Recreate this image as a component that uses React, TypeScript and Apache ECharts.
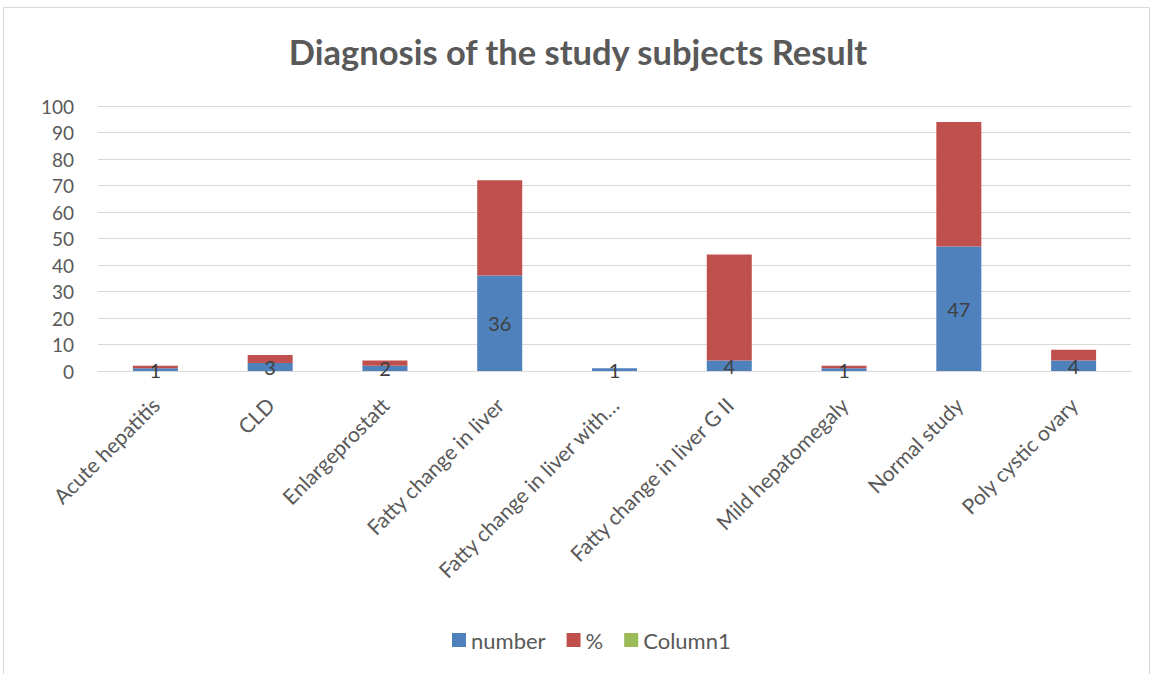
import React, { useEffect, useRef } from "react";
import * as echarts from "echarts";

const categories = [
  "Acute hepatitis",
  "CLD",
  "Enlargeprostatt",
  "Fatty change in liver",
  "Fatty change in liver with…",
  "Fatty change in liver G II",
  "Mild hepatomegaly",
  "Normal study",
  "Poly cystic ovary",
];
const numberValues = [1, 3, 2, 36, 1, 4, 1, 47, 4];
const percentValues = [1, 3, 2, 36, 0, 40, 1, 47, 4];
const column1Values = [0, 0, 0, 0, 0, 0, 0, 0, 0];
const yTicks = { min: 0, max: 100, interval: 10 };

const FONT = "Lato, 'Open Sans', sans-serif";

export default function App() {
  const ref = useRef<HTMLDivElement>(null);
  useEffect(() => {
    if (!ref.current) return;
    const chart = echarts.init(ref.current, null, { renderer: "svg" });
    chart.setOption({
      animation: false,
      backgroundColor: "#ffffff",
      textStyle: { fontFamily: FONT },
      title: {
        text: "Diagnosis of the study subjects Result",
        left: "center",
        top: 29,
        textStyle: { fontFamily: FONT, fontSize: 34.5, fontWeight: "bold", color: "#595959" },
      },
      graphic: [
        {
          type: "rect",
          shape: { x: 3.5, y: 7.5, width: 1146, height: 680 },
          style: { fill: "none", stroke: "#d9d9d9", lineWidth: 1 },
          silent: true,
        },
      ],
      legend: {
        bottom: 18,
        left: 447,
        itemWidth: 14,
        itemHeight: 14,
        itemGap: 21,
        itemTextGap: 5,
        icon: "rect",
        textStyle: { fontFamily: FONT, fontSize: 22, color: "#595959" },
        data: ["number", "%", "Column1"],
      },
      grid: { left: 98, right: 25, top: 106, bottom: 303, containLabel: false },
      xAxis: {
        type: "category",
        data: categories,
        axisLine: { lineStyle: { color: "#d9d9d9", width: 1 } },
        axisTick: { show: false },
        axisLabel: {
          rotate: 45,
          interval: 0,
          margin: 30,
          fontFamily: FONT,
          fontSize: 21,
          color: "#595959",
        },
      },
      yAxis: {
        type: "value",
        min: yTicks.min,
        max: yTicks.max,
        interval: yTicks.interval,
        axisLine: { show: false },
        axisTick: { show: false },
        splitLine: { lineStyle: { color: "#d9d9d9", width: 1 } },
        axisLabel: { fontFamily: FONT, fontSize: 19, color: "#595959", margin: 24 },
      },
      series: [
        {
          name: "number",
          type: "bar",
          stack: "total",
          barWidth: 45,
          data: numberValues,
          itemStyle: { color: "#4f81bd" },
          label: {
            show: true,
            position: "inside",
            fontFamily: FONT,
            fontSize: 20,
            color: "#404040",
          },
        },
        {
          name: "%",
          type: "bar",
          stack: "total",
          barWidth: 45,
          data: percentValues,
          itemStyle: { color: "#c0504d" },
        },
        {
          name: "Column1",
          type: "bar",
          stack: "total",
          barWidth: 45,
          data: column1Values,
          itemStyle: { color: "#9bbb59" },
        },
      ],
    });
    return () => chart.dispose();
  }, []);
  return (
    <div
      ref={ref}
      style={{ position: "fixed", left: 0, top: 0, width: 1156, height: 674 }}
    />
  );
}
